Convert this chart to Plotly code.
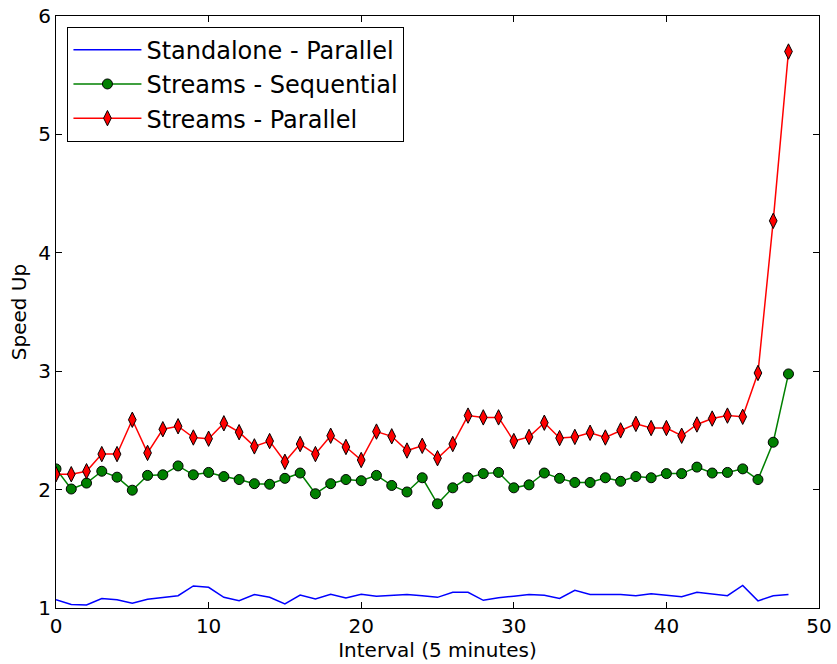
import plotly.graph_objects as go

intervals = list(range(49))

standalone_parallel = [
    1.07, 1.03, 1.025, 1.08, 1.07, 1.04, 1.073, 1.087, 1.104, 1.186,
    1.175, 1.09, 1.062, 1.113, 1.09, 1.034, 1.11, 1.076, 1.115, 1.085,
    1.115, 1.10, 1.107, 1.113, 1.104, 1.09, 1.132, 1.132, 1.065, 1.087,
    1.10, 1.113, 1.107, 1.08, 1.15, 1.115, 1.115, 1.115, 1.104, 1.12,
    1.107, 1.096, 1.132, 1.115, 1.104, 1.19, 1.06, 1.104, 1.113,
]

streams_sequential = [
    2.175, 2.005, 2.055, 2.155, 2.105, 1.995, 2.12, 2.125, 2.20, 2.125,
    2.145, 2.11, 2.085, 2.05, 2.045, 2.095, 2.14, 1.965, 2.05, 2.085,
    2.075, 2.12, 2.035, 1.98, 2.10, 1.88, 2.015, 2.10, 2.135, 2.145,
    2.015, 2.04, 2.14, 2.095, 2.06, 2.06, 2.10, 2.07, 2.11, 2.10,
    2.135, 2.135, 2.19, 2.14, 2.145, 2.175, 2.085, 2.40, 2.977,
]

streams_parallel = [
    2.13, 2.13, 2.155, 2.30, 2.30, 2.59, 2.31, 2.51, 2.535, 2.44,
    2.43, 2.56, 2.485, 2.365, 2.41, 2.235, 2.385, 2.30, 2.455, 2.36,
    2.25, 2.49, 2.45, 2.33, 2.37, 2.265, 2.385, 2.625, 2.61, 2.61,
    2.41, 2.445, 2.565, 2.435, 2.445, 2.48, 2.44, 2.50, 2.555, 2.52,
    2.52, 2.455, 2.55, 2.60, 2.625, 2.615, 2.985, 4.27, 5.70,
]

x_ticks = [0, 10, 20, 30, 40, 50]
y_ticks = [1, 2, 3, 4, 5, 6]

FONT = "DejaVu Sans"

fig = go.Figure()
fig.add_trace(go.Scatter(
    x=intervals, y=standalone_parallel, mode="lines",
    name="Standalone - Parallel",
    line=dict(color="#0000ff", width=1.5),
))
fig.add_trace(go.Scatter(
    x=intervals, y=streams_sequential, mode="lines+markers",
    name="Streams - Sequential",
    line=dict(color="#008000", width=1.5),
    marker=dict(symbol="circle", size=10, color="#008000",
                line=dict(color="black", width=1)),
))
fig.add_trace(go.Scatter(
    x=intervals, y=streams_parallel, mode="lines+markers",
    name="Streams - Parallel",
    line=dict(color="#ff0000", width=1.5),
    marker=dict(symbol="diamond-tall", size=11, color="#ff0000",
                line=dict(color="black", width=1)),
))

axis_common = dict(
    showgrid=False, zeroline=False, automargin=False,
    showline=True, linecolor="black", linewidth=1,
    mirror="ticks", ticks="inside", ticklen=6, tickwidth=1, tickcolor="black",
    tickfont=dict(family=FONT, size=20, color="black"),
)

fig.update_layout(
    width=837, height=664,
    margin=dict(l=56, r=18, t=16, b=56),
    paper_bgcolor="white", plot_bgcolor="white",
    font=dict(family=FONT, size=20, color="black"),
    showlegend=True,
    legend=dict(
        x=0.015, y=0.982, xanchor="left", yanchor="top",
        bordercolor="black", borderwidth=1, bgcolor="white",
        font=dict(family=FONT, size=24, color="black"),
        tracegroupgap=0, itemwidth=68,
    ),
    xaxis=dict(
        range=[0, 50], tickvals=x_ticks, ticktext=[str(v) for v in x_ticks],
        title=dict(text="Interval (5 minutes)", font=dict(family=FONT, size=20), standoff=4),
        **axis_common,
    ),
    yaxis=dict(
        range=[1, 6], tickvals=y_ticks, ticktext=[str(v) for v in y_ticks],
        title=dict(text="Speed Up", font=dict(family=FONT, size=20), standoff=6),
        **axis_common,
    ),
)

fig.write_html("out.html")
